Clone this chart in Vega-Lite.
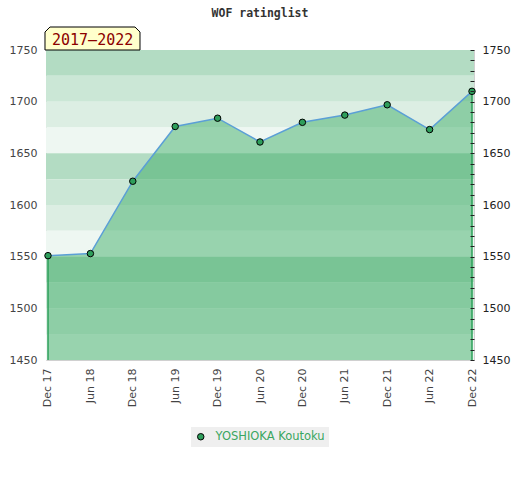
{
  "$schema": "https://vega.github.io/schema/vega-lite/v6.json",
  "width": 428,
  "height": 310,
  "autosize": {"type": "none"},
  "padding": {"left": 46, "top": 50, "right": 46, "bottom": 120},
  "background": "white",
  "title": {
    "text": "WOF ratinglist",
    "font": "DejaVu Sans Mono",
    "fontSize": 11.5,
    "fontWeight": "bold",
    "color": "#333333",
    "offset": 6
  },
  "config": {
    "view": {"stroke": "#d0d0d0", "strokeWidth": 1},
    "axis": {"labelFont": "DejaVu Sans", "labelFontSize": 11, "grid": false}
  },
  "datasets": {
    "bands": [
      {"lo": 1725, "hi": 1750, "tier": "a"},
      {"lo": 1700, "hi": 1725, "tier": "b"},
      {"lo": 1675, "hi": 1700, "tier": "c"},
      {"lo": 1650, "hi": 1675, "tier": "d"},
      {"lo": 1625, "hi": 1650, "tier": "a"},
      {"lo": 1600, "hi": 1625, "tier": "b"},
      {"lo": 1575, "hi": 1600, "tier": "c"},
      {"lo": 1550, "hi": 1575, "tier": "d"},
      {"lo": 1525, "hi": 1550, "tier": "a"},
      {"lo": 1500, "hi": 1525, "tier": "b"},
      {"lo": 1475, "hi": 1500, "tier": "c"},
      {"lo": 1450, "hi": 1475, "tier": "d"}
    ],
    "ratings": [
      {"t": "Dec 17", "r": 1551, "player": "YOSHIOKA Koutoku"},
      {"t": "Jun 18", "r": 1553, "player": "YOSHIOKA Koutoku"},
      {"t": "Dec 18", "r": 1623, "player": "YOSHIOKA Koutoku"},
      {"t": "Jun 19", "r": 1676, "player": "YOSHIOKA Koutoku"},
      {"t": "Dec 19", "r": 1684, "player": "YOSHIOKA Koutoku"},
      {"t": "Jun 20", "r": 1661, "player": "YOSHIOKA Koutoku"},
      {"t": "Dec 20", "r": 1680, "player": "YOSHIOKA Koutoku"},
      {"t": "Jun 21", "r": 1687, "player": "YOSHIOKA Koutoku"},
      {"t": "Dec 21", "r": 1697, "player": "YOSHIOKA Koutoku"},
      {"t": "Jun 22", "r": 1673, "player": "YOSHIOKA Koutoku"},
      {"t": "Dec 22", "r": 1710, "player": "YOSHIOKA Koutoku"}
    ],
    "label": [{"period": "2017–2022", "t": "Dec 17", "r": 1750}]
  },
  "resolve": {"scale": {"color": "independent", "fill": "independent"}, "axis": {"y": "independent"}},
  "layer": [
    {
      "data": {"name": "bands"},
      "mark": {"type": "rect"},
      "encoding": {
        "y": {"field": "lo", "type": "quantitative", "scale": {"domain": [1450, 1750], "zero": false, "nice": false},
          "axis": {"orient": "left", "values": [1450, 1500, 1550, 1600, 1650, 1700, 1750], "format": "d", "ticks": false, "domain": false, "labelColor": "#444444", "labelPadding": 9, "title": null, "labelFlush": false}},
        "y2": {"field": "hi"},
        "fill": {"field": "tier", "type": "nominal", "scale": {"domain": ["a", "b", "c", "d"], "range": ["#b3dcc3", "#cbe7d6", "#dceee3", "#eef7f2"]}, "legend": null}
      }
    },
    {
      "data": {"name": "ratings"},
      "mark": {"type": "area", "color": "#37aa61", "opacity": 0.47},
      "encoding": {
        "x": {"field": "t", "type": "ordinal", "sort": null,
          "scale": {"type": "point", "padding": 0.047},
          "axis": {"labelAngle": 270, "ticks": false, "domain": false, "labelColor": "#444444", "labelPadding": 8, "title": null}},
        "y": {"field": "r", "type": "quantitative", "axis": null},
        "y2": {"datum": 1450}
      }
    },
    {
      "data": {"name": "ratings"},
      "mark": {"type": "line", "color": "#5b9fd6", "strokeWidth": 1.5},
      "encoding": {
        "x": {"field": "t", "type": "ordinal", "sort": null},
        "y": {"field": "r", "type": "quantitative", "axis": null}
      }
    },
    {
      "data": {"name": "ratings"},
      "transform": [{"filter": {"field": "t", "oneOf": ["Dec 17", "Dec 22"]}}],
      "mark": {"type": "rule", "color": "#2ca05a", "strokeWidth": 1.5},
      "encoding": {
        "x": {"field": "t", "type": "ordinal", "sort": null},
        "y": {"field": "r", "type": "quantitative", "axis": null},
        "y2": {"datum": 1450}
      }
    },
    {
      "data": {"name": "ratings"},
      "mark": {"type": "circle", "size": 42, "stroke": "black", "strokeWidth": 1, "opacity": 1},
      "encoding": {
        "x": {"field": "t", "type": "ordinal", "sort": null},
        "y": {"field": "r", "type": "quantitative",
          "axis": {"orient": "right", "zindex": 1, "offset": -4, "values": [1450,1460,1470,1480,1490,1500,1510,1520,1530,1540,1550,1560,1570,1580,1590,1600,1610,1620,1630,1640,1650,1660,1670,1680,1690,1700,1710,1720,1730,1740,1750],
            "format": "d", "labelExpr": "datum.value % 50 == 0 ? datum.label : ''", "tickSize": 4, "tickWidth": 1, "tickColor": "#222222", "domain": false, "labelColor": "#222222", "labelPadding": 8, "title": null, "labelFlush": false}},
        "color": {"field": "player", "type": "nominal", "scale": {"range": ["#2e9e5b"]},
          "legend": {"orient": "none", "legendX": 145, "legendY": 377, "title": null, "fillColor": "#efefef", "padding": 4,
            "labelColor": "#3aa660", "labelFontSize": 11.5, "labelFont": "DejaVu Sans", "symbolSize": 42, "symbolStrokeColor": "black", "symbolStrokeWidth": 1, "symbolType": "circle", "labelOffset": 9}}
      }
    },
    {
      "data": {"name": "label"},
      "mark": {"type": "point", "shape": "M-3,0 L-3,-18 L2,-23 L87,-23 L92,-18 L92,0 Z", "size": 4, "filled": true, "fill": "#ffffcc", "stroke": "black", "strokeWidth": 1, "opacity": 1},
      "encoding": {
        "x": {"field": "t", "type": "ordinal", "sort": null},
        "y": {"field": "r", "type": "quantitative", "axis": null}
      }
    },
    {
      "data": {"name": "label"},
      "mark": {"type": "text", "align": "left", "baseline": "alphabetic", "dx": 4, "dy": -5, "font": "DejaVu Sans Mono", "fontSize": 15, "color": "#8b0000"},
      "encoding": {
        "x": {"field": "t", "type": "ordinal", "sort": null},
        "y": {"field": "r", "type": "quantitative", "axis": null},
        "text": {"field": "period"}
      }
    }
  ]
}
